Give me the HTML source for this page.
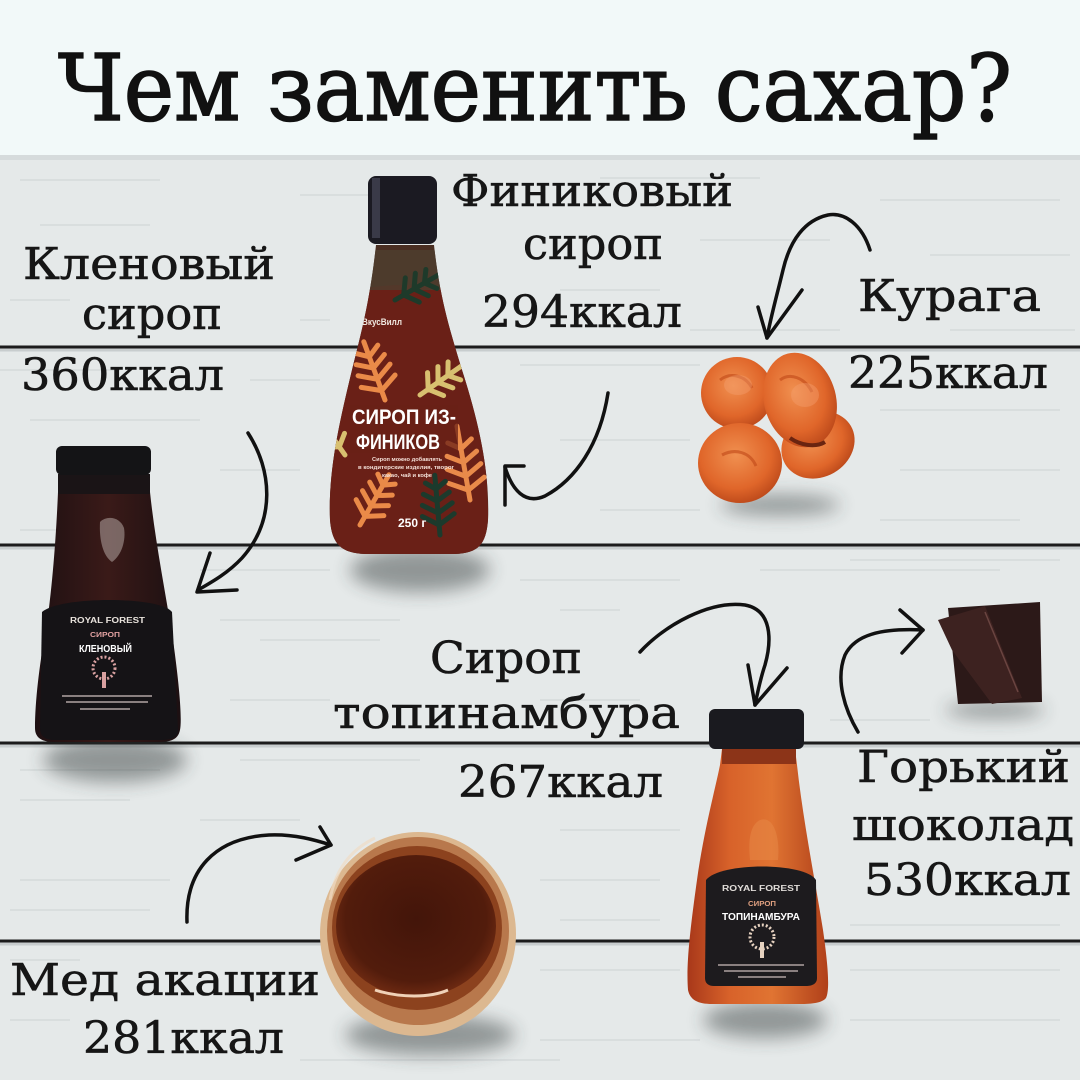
<!DOCTYPE html>
<html><head><meta charset="utf-8">
<style>
html,body{margin:0;padding:0;width:1080px;height:1080px;overflow:hidden;background:#e6eaea}
svg{display:block}
.lb{font-family:"DejaVu Serif","Liberation Serif","Noto Serif CJK SC",serif;fill:#161616;font-size:44px;stroke:#161616;stroke-width:0.6}
.sm{font-family:"Liberation Sans","DejaVu Sans",sans-serif;font-weight:bold}
</style></head><body>
<svg width="1080" height="1080" viewBox="0 0 1080 1080" xmlns="http://www.w3.org/2000/svg">
<defs>
<filter id="blur" x="-50%" y="-50%" width="200%" height="200%"><feGaussianBlur stdDeviation="9"/></filter>
<linearGradient id="tg" x1="0" x2="1" y1="0" y2="0">
<stop offset="0" stop-color="#a8381a"/><stop offset="0.3" stop-color="#d8622a"/><stop offset="0.6" stop-color="#e07432"/><stop offset="1" stop-color="#b0401a"/>
</linearGradient>
<linearGradient id="mg" x1="0" x2="1" y1="0" y2="0">
<stop offset="0" stop-color="#1e1012"/><stop offset="0.5" stop-color="#3a1a18"/><stop offset="1" stop-color="#1c1012"/>
</linearGradient>
<radialGradient id="hg" cx="0.5" cy="0.45" r="0.55">
<stop offset="0" stop-color="#43150a"/><stop offset="0.8" stop-color="#521c0c"/><stop offset="1" stop-color="#6e2a12"/>
</radialGradient>
<radialGradient id="ag" cx="0.45" cy="0.4" r="0.6">
<stop offset="0" stop-color="#f09050"/><stop offset="0.7" stop-color="#e0662a"/><stop offset="1" stop-color="#c04c1c"/>
</radialGradient>
<clipPath id="dclip"><path d="M376 245 L434 245 C440 300 450 330 462 370 C478 420 490 470 488 520 C486 545 478 553 455 554 L365 554 C342 553 332 545 330 520 C328 470 340 420 352 370 C362 330 370 300 376 245 Z"/></clipPath>
</defs>

<!-- header -->
<rect x="0" y="0" width="1080" height="155" fill="#f2f9f9"/>
<!-- wood -->
<rect x="0" y="155" width="1080" height="925" fill="#e5e9e9"/>
<rect x="0" y="155" width="1080" height="5" fill="#d6dbdc"/>
<g stroke="#c8cecf" stroke-width="1.5" opacity="0.55" fill="none">
<path d="M20 180 H160 M300 195 H420 M600 178 H760 M880 200 H1060 M40 225 H150 M700 240 H830 M930 255 H1070 M10 300 H70 M560 290 H660 M300 320 H330 M690 330 H840 M950 330 H1075"/>
<path d="M0 370 H120 M250 380 H320 M520 365 H700 M880 410 H1060 M30 420 H200 M560 440 H690 M900 470 H1060 M220 470 H300 M600 510 H700 M880 520 H1020 M20 530 H60"/>
<path d="M200 570 H330 M520 580 H680 M760 570 H1000 M220 620 H400 M560 610 H620 M20 770 H160 M240 760 H420 M260 640 H380 M540 700 H640 M230 700 H330 M850 560 H1060 M830 720 H930 M10 745 H40"/>
<path d="M20 800 H130 M200 820 H300 M560 830 H680 M850 925 H1060 M20 880 H170 M540 880 H660 M10 910 H150 M560 920 H660 M10 960 H80 M540 970 H680 M850 970 H1060 M10 1020 H70 M540 1040 H700 M850 1020 H1060 M300 1060 H560"/>
</g>
<!-- plank gaps -->
<g stroke="#1c1c1c" stroke-width="3">
<line x1="0" y1="347" x2="1080" y2="347"/>
<line x1="0" y1="545" x2="1080" y2="545"/>
<line x1="0" y1="743" x2="1080" y2="743"/>
<line x1="0" y1="941" x2="1080" y2="941"/>
</g>
<g stroke="#bcc2c3" stroke-width="3" opacity="0.7">
<line x1="0" y1="350" x2="1080" y2="350"/>
<line x1="0" y1="548" x2="1080" y2="548"/>
<line x1="0" y1="746" x2="1080" y2="746"/>
<line x1="0" y1="944" x2="1080" y2="944"/>
</g>

<!-- title -->
<text x="58" y="120" font-family="DejaVu Serif, Liberation Serif, serif" font-size="92" fill="#111" stroke="#111" stroke-width="1.6" textLength="954" lengthAdjust="spacingAndGlyphs">Чем заменить сахар?</text>

<!-- shadows -->
<g filter="url(#blur)" fill="#2a3030" opacity="0.45">
<ellipse cx="115" cy="760" rx="72" ry="22"/>
<ellipse cx="420" cy="570" rx="70" ry="22"/>
<ellipse cx="765" cy="1020" rx="62" ry="18"/>
<ellipse cx="430" cy="1035" rx="85" ry="20"/>
<ellipse cx="780" cy="505" rx="60" ry="10"/>
<ellipse cx="995" cy="710" rx="50" ry="8"/>
</g>

<!-- date syrup bottle -->
<rect x="368" y="176" width="69" height="68" rx="8" fill="#1b1a22"/>
<rect x="372" y="178" width="8" height="60" fill="#3a3a48"/>
<path d="M376 245 L434 245 C440 300 450 330 462 370 C478 420 490 470 488 520 C486 545 478 553 455 554 L365 554 C342 553 332 545 330 520 C328 470 340 420 352 370 C362 330 370 300 376 245 Z" fill="#4a2e22"/>
<g clip-path="url(#dclip)">
<path d="M330 300 C360 280 450 280 480 300 L490 560 L320 560 Z" fill="#6a2017"/>
<rect x="370" y="250" width="70" height="40" fill="#4e3e30" opacity="0.8"/>
<g stroke-linecap="round" fill="none" stroke-width="5">
<g transform="translate(395 300) rotate(60)" stroke="#1e3a2a"><path d="M0 0 V-50 M0 -10 l-14 -10 M0 -10 l14 -10 M0 -22 l-13 -9 M0 -22 l13 -9 M0 -34 l-11 -8 M0 -34 l11 -8"/></g>
<g transform="translate(385 400) rotate(-20)" stroke="#ea8a48"><path d="M0 0 V-62 M0 -10 l-18 -10 M0 -10 l18 -10 M0 -22 l-17 -10 M0 -22 l17 -10 M0 -34 l-15 -9 M0 -34 l15 -9 M0 -46 l-12 -8 M0 -46 l12 -8"/></g>
<g transform="translate(420 395) rotate(55)" stroke="#d8c070"><path d="M0 0 V-55 M0 -10 l-14 -9 M0 -10 l14 -9 M0 -22 l-13 -9 M0 -22 l13 -9 M0 -34 l-11 -8 M0 -34 l11 -8"/></g>
<g transform="translate(345 455) rotate(-35)" stroke="#d8c070"><path d="M0 0 V-50 M0 -10 l-12 -8 M0 -10 l12 -8 M0 -22 l-11 -8 M0 -22 l11 -8 M0 -34 l-9 -7 M0 -34 l9 -7"/></g>
<g transform="translate(470 500) rotate(-10)" stroke="#e98a4a"><path d="M0 0 V-75 M0 -10 l-18 -10 M0 -10 l18 -10 M0 -24 l-17 -10 M0 -24 l17 -10 M0 -38 l-15 -9 M0 -38 l15 -9 M0 -52 l-12 -8 M0 -52 l12 -8"/></g>
<g transform="translate(360 525) rotate(30)" stroke="#ea8a48"><path d="M0 0 V-58 M0 -10 l-16 -10 M0 -10 l16 -10 M0 -22 l-15 -9 M0 -22 l15 -9 M0 -34 l-13 -8 M0 -34 l13 -8 M0 -46 l-10 -7 M0 -46 l10 -7"/></g>
<g transform="translate(440 535) rotate(-5)" stroke="#1c3a2c"><path d="M0 0 V-60 M0 -10 l-16 -10 M0 -10 l16 -10 M0 -22 l-15 -9 M0 -22 l15 -9 M0 -34 l-13 -8 M0 -34 l13 -8 M0 -46 l-10 -7 M0 -46 l10 -7"/></g>
</g>
<rect x="350" y="405" width="108" height="48" fill="#6a2017" opacity="0.75"/>
<text x="362" y="325" class="sm" font-size="9" fill="#f0e8e0" textLength="40" lengthAdjust="spacingAndGlyphs">ВкусВилл</text>
<text x="352" y="424" class="sm" font-size="21" fill="#fff" textLength="104" lengthAdjust="spacingAndGlyphs">СИРОП ИЗ-</text>
<text x="356" y="449" class="sm" font-size="21" fill="#fff" textLength="84" lengthAdjust="spacingAndGlyphs">ФИНИКОВ</text>
<text x="372" y="461" class="sm" font-size="5" fill="#f4e0d8" textLength="70" lengthAdjust="spacingAndGlyphs">Сироп можно добавлять</text>
<text x="358" y="469" class="sm" font-size="5" fill="#f4e0d8" textLength="96" lengthAdjust="spacingAndGlyphs">в кондитерские изделия, творог</text>
<text x="382" y="477" class="sm" font-size="5" fill="#f4e0d8" textLength="50" lengthAdjust="spacingAndGlyphs">какао, чай и кофе</text>
<text x="398" y="527" class="sm" font-size="12" fill="#fff">250 г</text>
</g>

<!-- maple syrup bottle -->
<path d="M58 476 L150 476 L150 492 C155 540 165 590 173 640 C180 690 182 720 180 730 C178 740 170 742 158 742 L55 742 C42 742 35 738 35 728 C35 700 40 660 46 630 C52 590 56 540 58 492 Z" fill="url(#mg)"/>
<rect x="58" y="474" width="92" height="20" fill="#1a1416"/>
<rect x="56" y="446" width="95" height="29" rx="6" fill="#141416"/>
<path d="M100 522 C107 515 120 517 124 528 C126 540 122 555 112 562 C103 556 99 540 100 522 Z" fill="#cfc6c0" opacity="0.45"/>
<path d="M42 612 C60 596 160 596 172 612 L178 730 C178 738 170 740 160 740 L55 740 C45 740 40 736 40 728 Z" fill="#151316"/>
<text x="70" y="623" class="sm" font-size="8" fill="#e8e2dc" textLength="75" lengthAdjust="spacingAndGlyphs">ROYAL FOREST</text>
<text x="90" y="637" class="sm" font-size="7" fill="#e0a0a0" textLength="30" lengthAdjust="spacingAndGlyphs">СИРОП</text>
<text x="79" y="652" class="sm" font-size="10" fill="#fff" textLength="53" lengthAdjust="spacingAndGlyphs">КЛЕНОВЫЙ</text>
<circle cx="104" cy="668" r="11" fill="none" stroke="#d8a0a0" stroke-width="3" stroke-dasharray="2 2"/>
<rect x="102" y="672" width="4" height="16" fill="#d8a0a0"/>
<rect x="62" y="695" width="90" height="2" fill="#8a8080"/>
<rect x="66" y="701" width="82" height="2" fill="#8a8080"/>
<rect x="80" y="708" width="50" height="2" fill="#8a8080"/>

<!-- apricots -->
<g>
<ellipse cx="818" cy="445" rx="38" ry="32" transform="rotate(-30 818 445)" fill="url(#ag)"/>
<ellipse cx="737" cy="393" rx="36" ry="36" fill="url(#ag)"/>
<ellipse cx="800" cy="400" rx="36" ry="48" transform="rotate(-15 800 400)" fill="url(#ag)"/>
<ellipse cx="740" cy="463" rx="42" ry="40" fill="url(#ag)"/>
<path d="M790 438 C800 445 815 448 825 442" stroke="#6a2410" stroke-width="4" fill="none"/>
<path d="M720 380 C730 372 745 375 752 388 M780 380 C790 372 805 378 812 392 M722 455 C735 448 750 452 756 466" stroke="#c04818" stroke-width="3" fill="none" opacity="0.6"/>
<ellipse cx="738" cy="385" rx="14" ry="10" fill="#f5a070" opacity="0.4"/>
<ellipse cx="805" cy="395" rx="14" ry="12" fill="#f5a070" opacity="0.4"/>
</g>

<!-- chocolate -->
<polygon points="948,608 1040,602 1042,702 958,704" fill="#2c1918"/>
<polygon points="938,620 985,606 1022,698 992,704 952,650" fill="#3d2220"/>
<path d="M985 612 L1018 692" stroke="#6a4440" stroke-width="1.5"/>

<!-- topinambur bottle -->
<path d="M722 749 L795 749 L797 765 C803 820 815 880 823 930 C828 965 830 990 826 998 C822 1003 812 1004 800 1004 L712 1004 C698 1004 690 1000 688 990 C686 965 690 930 697 880 C704 830 715 790 720 765 Z" fill="url(#tg)"/>
<rect x="722" y="748" width="74" height="16" fill="#8c3418"/>
<rect x="709" y="709" width="95" height="40" rx="6" fill="#1a1a1f"/>
<path d="M760 820 C775 815 780 840 778 860 L750 860 C748 840 750 825 760 820 Z" fill="#e88a48" opacity="0.5"/>
<path d="M706 880 C720 862 805 862 816 880 L817 978 C817 984 812 986 806 986 L714 986 C708 986 705 983 705 978 Z" fill="#1d1b1e"/>
<text x="722" y="891" class="sm" font-size="8" fill="#e0dcd8" textLength="78" lengthAdjust="spacingAndGlyphs">ROYAL FOREST</text>
<text x="748" y="906" class="sm" font-size="7" fill="#e0a080" textLength="28" lengthAdjust="spacingAndGlyphs">СИРОП</text>
<text x="722" y="920" class="sm" font-size="10" fill="#fff" textLength="78" lengthAdjust="spacingAndGlyphs">ТОПИНАМБУРА</text>
<circle cx="762" cy="937" r="12" fill="none" stroke="#e6d2c0" stroke-width="3" stroke-dasharray="2 2"/>
<rect x="760" y="942" width="4" height="16" fill="#e6d2c0"/>
<rect x="718" y="964" width="86" height="2" fill="#8a8080"/>
<rect x="724" y="970" width="74" height="2" fill="#8a8080"/>
<rect x="738" y="976" width="48" height="2" fill="#8a8080"/>

<!-- honey jar -->
<ellipse cx="418" cy="934" rx="98" ry="102" fill="#dcb890"/>
<ellipse cx="418" cy="931" rx="91" ry="94" fill="#b8784c"/>
<ellipse cx="417" cy="928" rx="85" ry="82" fill="#8c421e"/>
<ellipse cx="416" cy="926" rx="80" ry="71" fill="url(#hg)"/>
<path d="M375 990 C400 998 430 998 448 990" stroke="#f0d2b8" stroke-width="3" fill="none"/>
<path d="M330 900 C335 870 350 850 375 838" stroke="#f0dcc4" stroke-width="3" fill="none" opacity="0.7"/>

<!-- arrows -->
<g stroke="#111" stroke-width="3.5" fill="none" stroke-linecap="round" stroke-linejoin="round">
<path d="M248 433 C272 470 276 520 242 558 C228 573 212 582 198 590"/>
<path d="M210 553 L197 592 L237 590"/>
<path d="M608 393 C600 445 575 480 545 496 C525 505 512 490 505 467"/>
<path d="M505 505 L505 466 L524 466"/>
<path d="M870 250 C862 225 845 212 828 215 C805 220 790 240 783 270 C777 295 770 320 767 338"/>
<path d="M758 307 L767 338 L802 290"/>
<path d="M640 652 C665 625 710 600 745 605 C772 610 772 640 765 665 C760 680 757 695 755 705"/>
<path d="M748 665 L755 705 L787 668"/>
<path d="M858 732 C845 710 835 680 845 655 C855 635 880 628 923 630"/>
<path d="M900 610 L923 630 L902 653"/>
<path d="M187 922 C185 870 215 838 269 835 C295 834 315 840 331 845"/>
<path d="M320 827 L331 845 L296 860"/>
</g>

<!-- labels -->
<text class="lb" x="451" y="206" textLength="282" lengthAdjust="spacingAndGlyphs">Финиковый</text>
<text class="lb" x="523" y="259" textLength="140" lengthAdjust="spacingAndGlyphs">сироп</text>
<text class="lb" x="482" y="327" textLength="200" lengthAdjust="spacingAndGlyphs">294ккал</text>
<text class="lb" x="23" y="279" textLength="252" lengthAdjust="spacingAndGlyphs">Кленовый</text>
<text class="lb" x="82" y="329" textLength="140" lengthAdjust="spacingAndGlyphs">сироп</text>
<text class="lb" x="21" y="390" textLength="203" lengthAdjust="spacingAndGlyphs">360ккал</text>
<text class="lb" x="858" y="311" textLength="183" lengthAdjust="spacingAndGlyphs">Курага</text>
<text class="lb" x="848" y="388" textLength="200" lengthAdjust="spacingAndGlyphs">225ккал</text>
<text class="lb" x="430" y="673" textLength="152" lengthAdjust="spacingAndGlyphs">Сироп</text>
<text class="lb" x="333" y="728" textLength="347" lengthAdjust="spacingAndGlyphs">топинамбура</text>
<text class="lb" x="458" y="797" textLength="205" lengthAdjust="spacingAndGlyphs">267ккал</text>
<text class="lb" x="857" y="782" textLength="213" lengthAdjust="spacingAndGlyphs">Горький</text>
<text class="lb" x="852" y="840" textLength="222" lengthAdjust="spacingAndGlyphs">шоколад</text>
<text class="lb" x="864" y="895" textLength="207" lengthAdjust="spacingAndGlyphs">530ккал</text>
<text class="lb" x="10" y="995" textLength="310" lengthAdjust="spacingAndGlyphs">Мед акации</text>
<text class="lb" x="83" y="1053" textLength="201" lengthAdjust="spacingAndGlyphs">281ккал</text>
</svg>
</body></html>
